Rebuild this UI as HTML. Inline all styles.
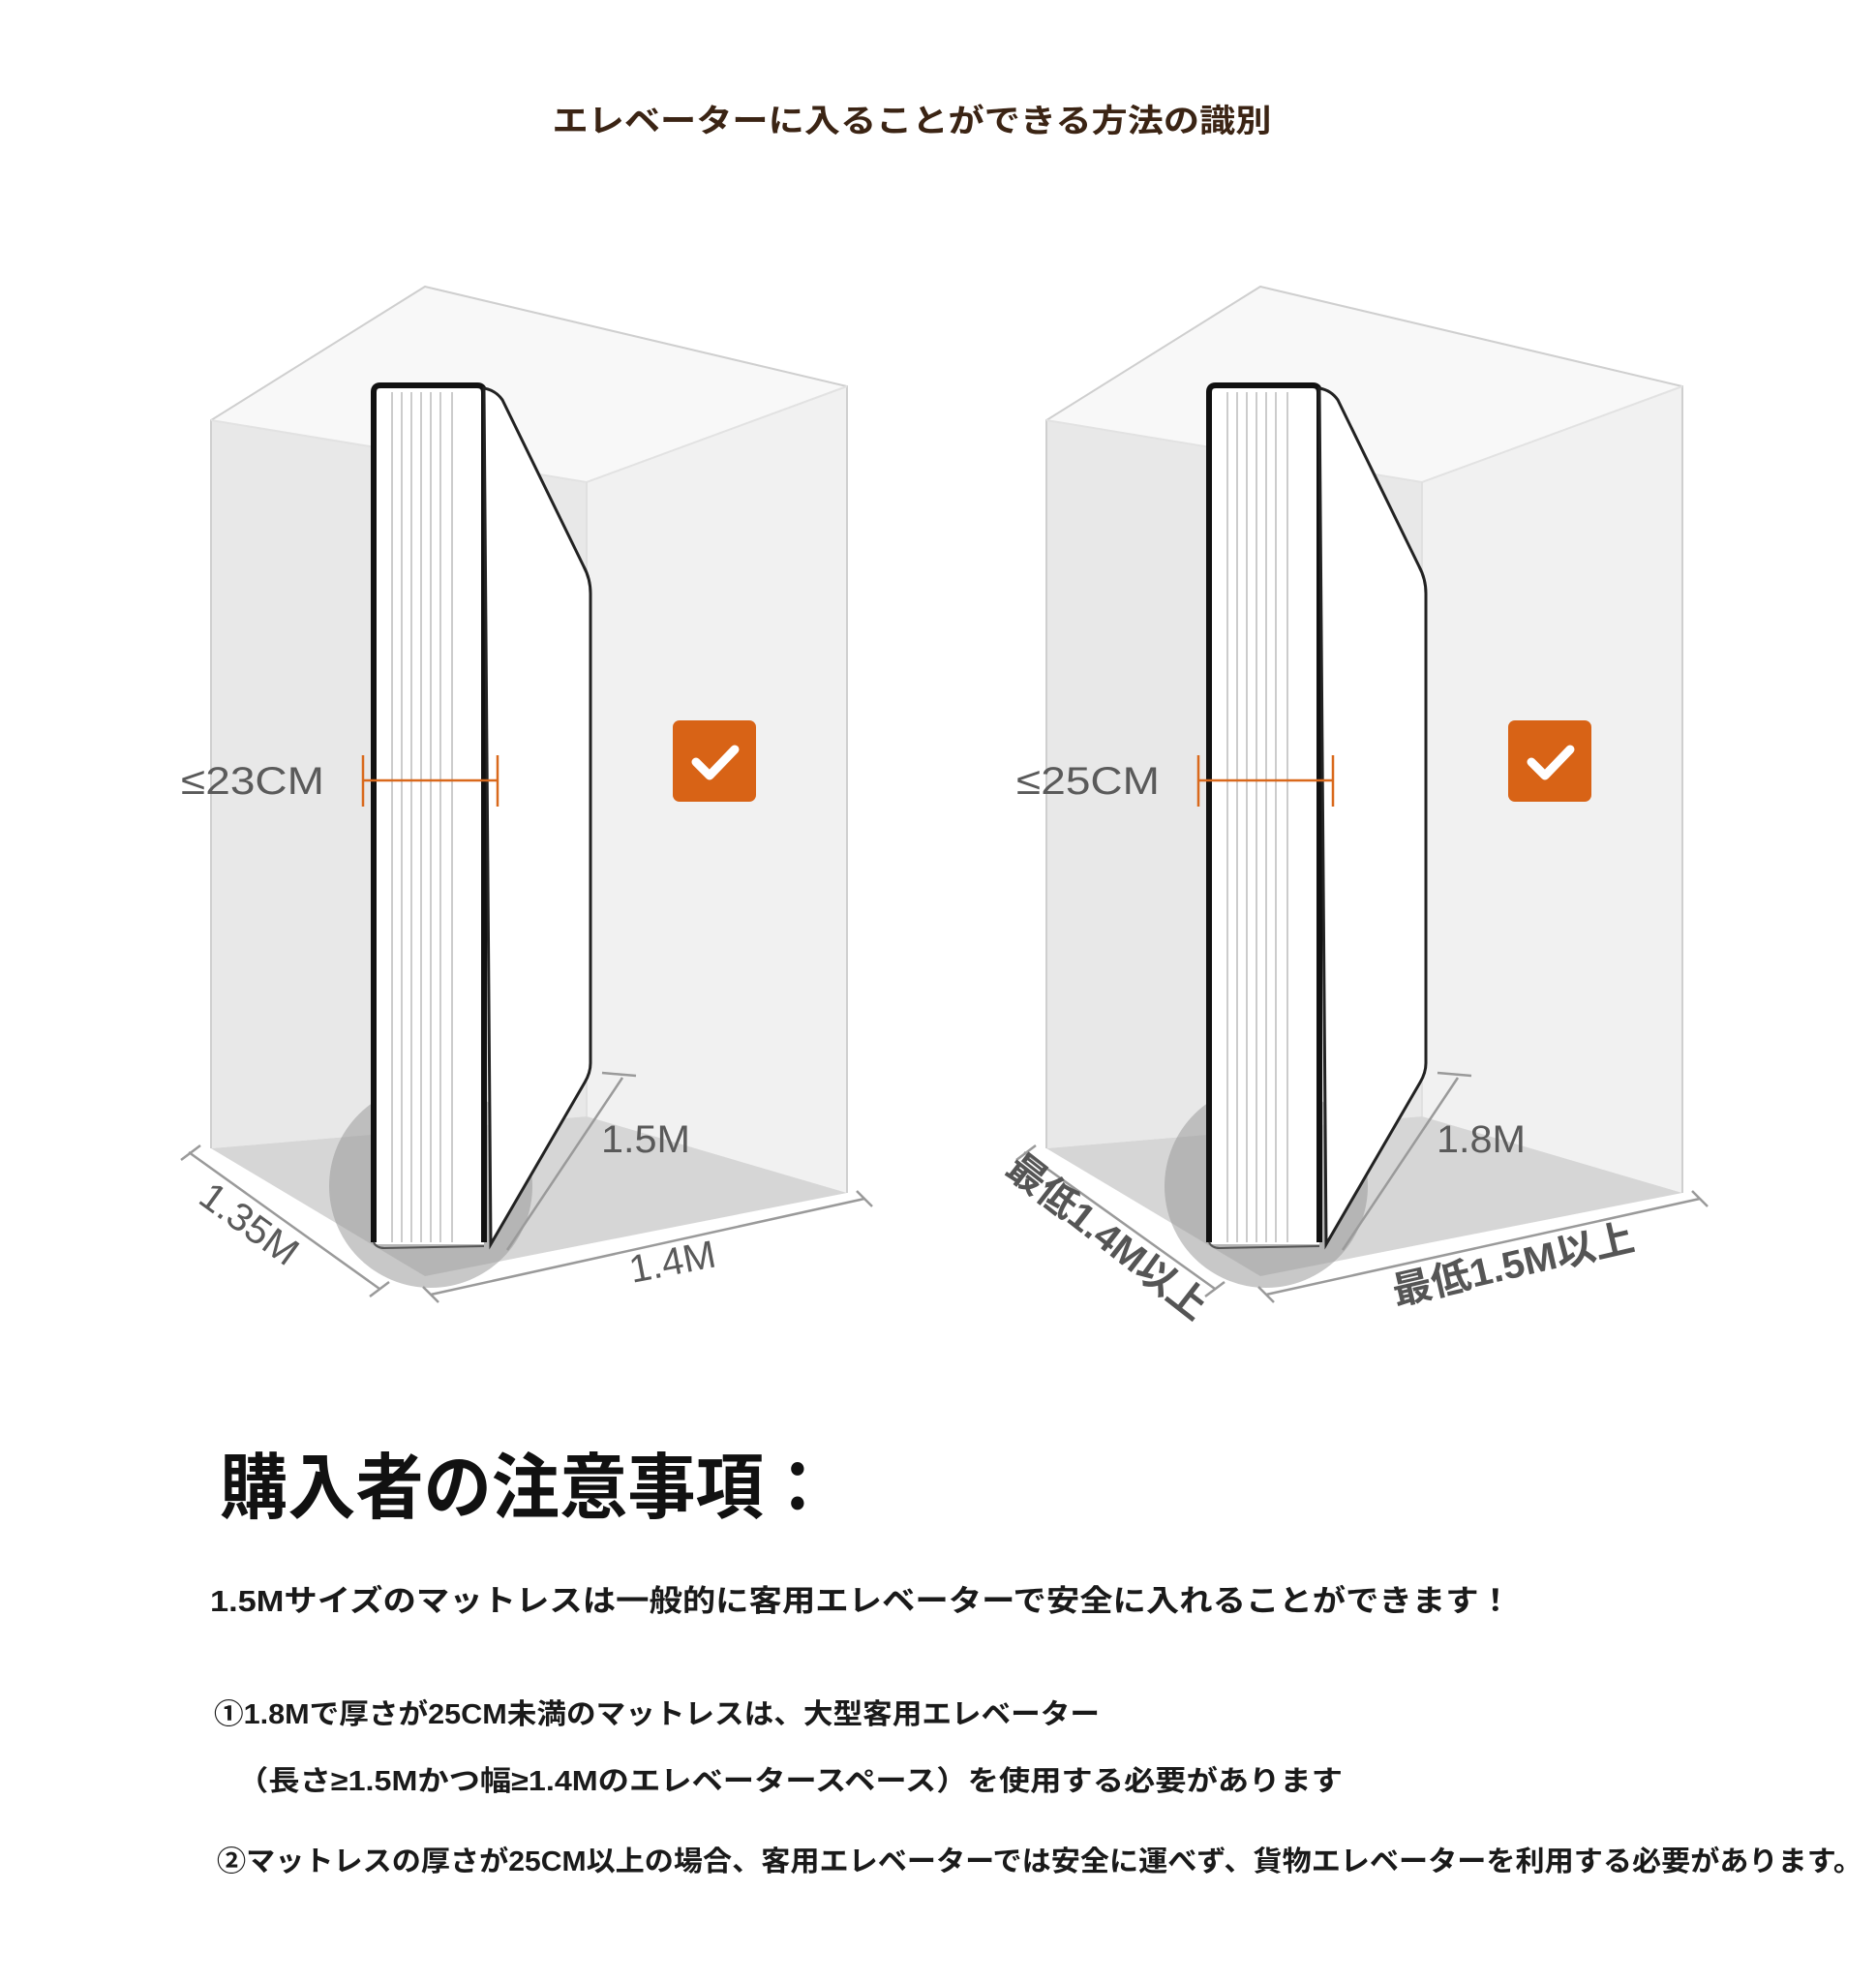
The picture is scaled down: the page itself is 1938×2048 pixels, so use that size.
<!DOCTYPE html>
<html><head><meta charset="utf-8"><style>
html,body{margin:0;padding:0;background:#fff;}
svg{display:block;}
.lbl{font-family:"Liberation Sans","Noto Sans CJK JP",sans-serif;fill:#5a5a5a;}
.jp{font-family:"Liberation Sans","Noto Sans CJK JP",sans-serif;font-weight:700;}
</style></head><body>
<svg width="1938" height="2048" viewBox="0 0 1938 2048" xmlns="http://www.w3.org/2000/svg">
<defs>
<g id="box">
  <polygon points="221,441 609,505 609,1160 221,1193" fill="#e8e8e8"/>
  <polygon points="609,505 878,406 878,1239 609,1160" fill="#f1f1f1"/>
  <polygon points="221,441 442,303 878,406 609,505" fill="#f8f8f8"/>
  <polygon points="221,1193 609,1160 878,1239 442,1325" fill="#d6d6d6"/>
  <polyline points="221,1193 221,441 442,303 878,406 878,1239" fill="none" stroke="#cfcfcf" stroke-width="2"/>
  <polyline points="221,441 609,505 878,406" fill="none" stroke="#e2e2e2" stroke-width="2"/>
  <line x1="609" y1="505" x2="609" y2="1160" stroke="#e0e0e0" stroke-width="2"/>
  <circle cx="448" cy="1232" r="105" fill="#9a9a9a" opacity="0.55"/>
  <rect x="389" y="408" width="114" height="884" fill="#fff"/>
  <g stroke="#bbb" stroke-width="1.5">
    <line x1="408" y1="412" x2="408" y2="1290"/><line x1="418" y1="412" x2="418" y2="1290"/>
    <line x1="428" y1="412" x2="428" y2="1290"/><line x1="438" y1="412" x2="438" y2="1290"/>
    <line x1="448" y1="412" x2="448" y2="1290"/><line x1="458" y1="412" x2="458" y2="1290"/>
    <line x1="470" y1="412" x2="470" y2="1290"/>
  </g>
  <path d="M389,1290 L389,412 Q389,405 396,405 L496,405 Q503,405 503,412 L503,1290" fill="none" stroke="#111" stroke-width="6"/>
  <path d="M389,1290 Q392,1296 400,1296 L503,1294" fill="none" stroke="#555" stroke-width="2"/>
  <path d="M503,408 Q515,410 522,420 L606,592 Q613,605 613,620 L613,1105 Q613,1115 607,1125 L510,1292 Z" fill="#fff" stroke="#222" stroke-width="3"/>
  <g stroke="#d9691c" stroke-width="2.5">
    <line x1="378" y1="813" x2="517" y2="813"/>
    <line x1="378" y1="787" x2="378" y2="840"/>
    <line x1="517" y1="787" x2="517" y2="840"/>
  </g>
  <rect x="698" y="751" width="86" height="84" rx="7" fill="#d86316"/>
  <polyline points="722,794 736,808 762,781" fill="none" stroke="#fff" stroke-width="9" stroke-linecap="round" stroke-linejoin="round"/>
  <g stroke="#9a9a9a" stroke-width="2.5" fill="none">
    <line x1="198" y1="1197" x2="395" y2="1338"/>
    <line x1="190" y1="1205" x2="210" y2="1190"/>
    <line x1="385" y1="1346" x2="405" y2="1331"/>
    <line x1="448" y1="1344" x2="896" y2="1245"/>
    <line x1="440" y1="1336" x2="456" y2="1352"/>
    <line x1="888" y1="1237" x2="904" y2="1253"/>
    <line x1="527" y1="1298" x2="646" y2="1120"/>
    <line x1="625" y1="1115" x2="660" y2="1118"/>
  </g>
</g>
</defs>

<text x="942" y="136" text-anchor="middle" class="jp" font-size="33" fill="#3b2414" textLength="743" lengthAdjust="spacingAndGlyphs">エレベーターに入ることができる方法の識別</text>

<g transform="translate(-3,-7)">
<use href="#box"/>
<text x="190" y="827" class="lbl" font-size="40" textLength="148" lengthAdjust="spacingAndGlyphs">≤23CM</text>
<text x="624" y="1197" class="lbl" font-size="40" textLength="92" lengthAdjust="spacingAndGlyphs">1.5M</text>
<text transform="translate(656,1332) rotate(-11)" class="lbl" font-size="40" textLength="90" lengthAdjust="spacingAndGlyphs">1.4M</text>
<text transform="translate(206,1248) rotate(36)" class="lbl" font-size="40" textLength="115" lengthAdjust="spacingAndGlyphs">1.35M</text>

<g transform="translate(863,0)"><use href="#box"/></g>
<text x="1053" y="827" class="lbl" font-size="40" textLength="148" lengthAdjust="spacingAndGlyphs">≤25CM</text>
<text x="1487" y="1197" class="lbl" font-size="40" textLength="92" lengthAdjust="spacingAndGlyphs">1.8M</text>
<text transform="translate(1040,1218) rotate(38)" class="jp" font-size="40" fill="#555" textLength="250" lengthAdjust="spacingAndGlyphs">最低1.4M以上</text>
<text transform="translate(1445,1355) rotate(-13)" class="jp" font-size="40" fill="#555" textLength="255" lengthAdjust="spacingAndGlyphs">最低1.5M以上</text>
</g>

<g transform="translate(0,-14)">
<text x="227" y="1576" class="jp" font-size="74" font-weight="900" fill="#111" textLength="632" lengthAdjust="spacingAndGlyphs">購入者の注意事項：</text>
<text x="217" y="1678" class="jp" font-size="31" fill="#1a1a1a" textLength="1345" lengthAdjust="spacingAndGlyphs">1.5Mサイズのマットレスは一般的に客用エレベーターで安全に入れることができます！</text>
<text x="221" y="1794" class="jp" font-size="29" fill="#1a1a1a" textLength="915" lengthAdjust="spacingAndGlyphs">①1.8Mで厚さが25CM未満のマットレスは、大型客用エレベーター</text>
<text x="245" y="1863" class="jp" font-size="29" fill="#1a1a1a" textLength="1142" lengthAdjust="spacingAndGlyphs">（長さ≥1.5Mかつ幅≥1.4Mのエレベータースペース）を使用する必要があります</text>
<text x="224" y="1946" class="jp" font-size="29" fill="#1a1a1a" textLength="1700" lengthAdjust="spacingAndGlyphs">②マットレスの厚さが25CM以上の場合、客用エレベーターでは安全に運べず、貨物エレベーターを利用する必要があります。</text>
</g>
</svg>
</body></html>
